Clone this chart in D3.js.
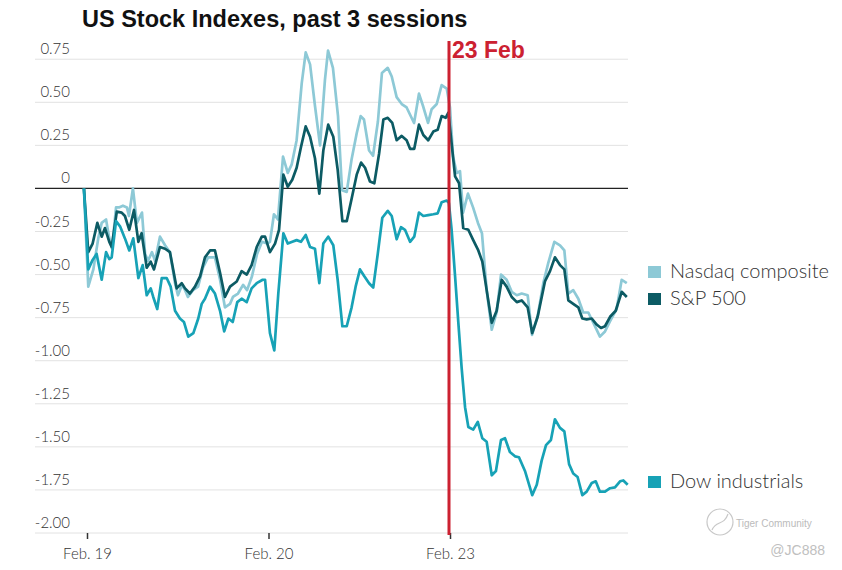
<!DOCTYPE html>
<html>
<head>
<meta charset="utf-8">
<script src="https://cdn.jsdelivr.net/npm/d3@7/dist/d3.min.js"></script>
<style>
  body { margin: 0; background: #fff; }
  text { font-family: Lato, "Liberation Sans", sans-serif; }
</style>
</head>
<body>
<script>
// sessions on the x axis, time measured in sessions from Feb. 19 open
const sessions = ["Feb. 19", "Feb. 20", "Feb. 23"];
const yTicks = [0.75, 0.5, 0.25, 0, -0.25, -0.5, -0.75, -1, -1.25, -1.5, -1.75, -2];
const markerTime = 2;          // 23 Feb open
const markerLabel = "23 Feb";

// [session time, % change]
const nasdaq = [
  [-0.017, 0], [0.007, -0.57], [0.035, -0.47], [0.062, -0.29], [0.081, -0.20], [0.105, -0.18],
  [0.121, -0.28], [0.138, -0.35], [0.160, -0.11], [0.176, -0.11], [0.198, -0.10], [0.220, -0.11],
  [0.231, -0.16], [0.253, 0.0], [0.275, -0.20], [0.303, -0.14], [0.320, -0.38], [0.336, -0.42],
  [0.358, -0.37], [0.375, -0.42], [0.402, -0.28], [0.430, -0.33], [0.457, -0.37], [0.485, -0.55],
  [0.501, -0.62], [0.523, -0.56], [0.540, -0.59], [0.556, -0.63], [0.584, -0.59], [0.612, -0.57],
  [0.639, -0.46], [0.667, -0.40], [0.705, -0.40], [0.733, -0.53], [0.760, -0.69], [0.788, -0.67],
  [0.804, -0.63], [0.832, -0.61], [0.860, -0.56], [0.882, -0.59], [0.909, -0.51], [0.937, -0.38],
  [0.964, -0.31], [0.992, -0.32], [1.008, -0.31], [1.030, -0.15], [1.052, -0.18], [1.080, 0.185],
  [1.106, 0.09], [1.128, 0.14], [1.155, 0.28], [1.183, 0.61], [1.205, 0.79], [1.229, 0.72],
  [1.256, 0.48], [1.284, 0.25], [1.311, 0.63], [1.328, 0.80], [1.355, 0.70], [1.383, 0.42],
  [1.405, -0.01], [1.431, -0.02], [1.458, 0.17], [1.486, 0.32], [1.508, 0.42], [1.526, 0.40],
  [1.554, 0.22], [1.576, 0.19], [1.603, 0.39], [1.625, 0.67], [1.657, 0.70], [1.679, 0.65],
  [1.706, 0.53], [1.734, 0.49], [1.761, 0.47], [1.802, 0.38], [1.829, 0.55], [1.851, 0.48],
  [1.879, 0.38], [1.899, 0.46], [1.927, 0.49], [1.954, 0.60], [1.982, 0.58], [2.000, 0.47],
  [2.017, 0.185], [2.037, 0.09], [2.055, 0.10], [2.072, -0.14], [2.099, -0.03], [2.127, -0.11],
  [2.154, -0.20], [2.176, -0.26], [2.202, -0.59], [2.230, -0.82], [2.257, -0.72], [2.281, -0.50],
  [2.312, -0.53], [2.340, -0.60], [2.368, -0.62], [2.395, -0.61], [2.428, -0.62], [2.452, -0.85],
  [2.483, -0.74], [2.514, -0.55], [2.542, -0.43], [2.575, -0.31], [2.606, -0.33], [2.630, -0.36],
  [2.652, -0.61], [2.679, -0.59], [2.707, -0.64], [2.734, -0.72], [2.762, -0.72], [2.790, -0.78],
  [2.826, -0.86], [2.854, -0.83], [2.882, -0.77], [2.918, -0.70], [2.946, -0.53], [2.974, -0.55]
];

const sp500 = [
  [-0.017, 0], [0.007, -0.37], [0.031, -0.32], [0.057, -0.20], [0.081, -0.28], [0.099, -0.23],
  [0.123, -0.31], [0.136, -0.34], [0.164, -0.135], [0.191, -0.14], [0.209, -0.16], [0.233, -0.24],
  [0.259, -0.125], [0.283, -0.31], [0.301, -0.26], [0.329, -0.46], [0.351, -0.425], [0.369, -0.47],
  [0.402, -0.34], [0.430, -0.35], [0.457, -0.37], [0.494, -0.58], [0.522, -0.55], [0.540, -0.58],
  [0.567, -0.61], [0.595, -0.57], [0.623, -0.51], [0.650, -0.40], [0.678, -0.36], [0.705, -0.36],
  [0.733, -0.49], [0.760, -0.63], [0.788, -0.57], [0.825, -0.54], [0.852, -0.48], [0.880, -0.50],
  [0.907, -0.445], [0.935, -0.34], [0.963, -0.28], [0.981, -0.28], [1.008, -0.37], [1.036, -0.32],
  [1.058, -0.24], [1.082, 0.08], [1.106, 0.01], [1.131, 0.05], [1.155, 0.12], [1.179, 0.24],
  [1.205, 0.36], [1.229, 0.30], [1.256, 0.175], [1.280, -0.03], [1.302, 0.22], [1.329, 0.37],
  [1.357, 0.30], [1.381, 0.11], [1.407, -0.19], [1.431, -0.19], [1.458, -0.06], [1.486, 0.08],
  [1.510, 0.15], [1.532, 0.12], [1.559, 0.04], [1.583, 0.03], [1.609, 0.20], [1.633, 0.40],
  [1.657, 0.41], [1.682, 0.38], [1.706, 0.28], [1.734, 0.305], [1.761, 0.28], [1.780, 0.23],
  [1.803, 0.23], [1.829, 0.37], [1.853, 0.31], [1.880, 0.28], [1.908, 0.33], [1.932, 0.34],
  [1.954, 0.42], [1.976, 0.41], [1.991, 0.44], [2.028, 0.07], [2.050, 0.03], [2.073, -0.23],
  [2.101, -0.24], [2.128, -0.30], [2.156, -0.36], [2.178, -0.425], [2.202, -0.59], [2.230, -0.78],
  [2.257, -0.71], [2.285, -0.53], [2.312, -0.57], [2.340, -0.63], [2.368, -0.66], [2.395, -0.65],
  [2.428, -0.69], [2.453, -0.84], [2.483, -0.745], [2.523, -0.54], [2.551, -0.48], [2.578, -0.40],
  [2.606, -0.445], [2.630, -0.47], [2.652, -0.65], [2.679, -0.67], [2.707, -0.69], [2.729, -0.755],
  [2.753, -0.76], [2.781, -0.755], [2.808, -0.79], [2.832, -0.81], [2.854, -0.80], [2.882, -0.745],
  [2.913, -0.71], [2.946, -0.60], [2.974, -0.63]
];

const dow = [
  [-0.017, 0], [0.007, -0.47], [0.031, -0.415], [0.053, -0.38], [0.081, -0.53], [0.105, -0.37],
  [0.123, -0.41], [0.136, -0.40], [0.160, -0.19], [0.182, -0.22], [0.209, -0.29], [0.233, -0.36],
  [0.255, -0.29], [0.283, -0.52], [0.307, -0.445], [0.329, -0.62], [0.351, -0.58], [0.365, -0.63],
  [0.387, -0.70], [0.412, -0.52], [0.439, -0.52], [0.461, -0.57], [0.485, -0.71], [0.512, -0.755],
  [0.534, -0.775], [0.558, -0.86], [0.586, -0.84], [0.613, -0.755], [0.632, -0.67], [0.650, -0.64],
  [0.678, -0.57], [0.705, -0.61], [0.733, -0.71], [0.756, -0.83], [0.779, -0.755], [0.803, -0.775],
  [0.828, -0.66], [0.852, -0.64], [0.880, -0.66], [0.907, -0.58], [0.935, -0.55], [0.968, -0.53],
  [0.981, -0.53], [1.008, -0.84], [1.032, -0.94], [1.054, -0.61], [1.082, -0.26], [1.106, -0.32],
  [1.131, -0.31], [1.155, -0.30], [1.179, -0.31], [1.205, -0.27], [1.229, -0.34], [1.256, -0.35],
  [1.280, -0.55], [1.302, -0.32], [1.329, -0.28], [1.357, -0.33], [1.381, -0.53], [1.407, -0.80],
  [1.431, -0.80], [1.458, -0.69], [1.480, -0.57], [1.504, -0.47], [1.528, -0.51], [1.554, -0.55],
  [1.577, -0.575], [1.602, -0.38], [1.627, -0.17], [1.657, -0.13], [1.679, -0.16], [1.706, -0.295],
  [1.730, -0.225], [1.752, -0.24], [1.780, -0.31], [1.803, -0.28], [1.829, -0.14], [1.853, -0.16],
  [1.880, -0.155], [1.908, -0.15], [1.932, -0.145], [1.954, -0.08], [1.982, -0.07], [1.994, -0.085],
  [2.009, -0.24], [2.028, -0.51], [2.046, -0.78], [2.064, -1.04], [2.083, -1.27], [2.101, -1.385],
  [2.128, -1.40], [2.153, -1.355], [2.178, -1.45], [2.202, -1.47], [2.230, -1.665], [2.253, -1.64],
  [2.281, -1.46], [2.303, -1.45], [2.330, -1.53], [2.358, -1.555], [2.380, -1.56], [2.413, -1.64],
  [2.453, -1.78], [2.478, -1.72], [2.505, -1.58], [2.529, -1.49], [2.556, -1.46], [2.578, -1.34],
  [2.606, -1.39], [2.630, -1.41], [2.656, -1.60], [2.679, -1.655], [2.703, -1.675], [2.729, -1.78],
  [2.753, -1.76], [2.781, -1.71], [2.803, -1.70], [2.826, -1.76], [2.854, -1.76], [2.882, -1.74],
  [2.909, -1.735], [2.937, -1.70], [2.955, -1.695], [2.979, -1.72]
];

const seriesNames = ["Nasdaq composite", "S&P 500", "Dow industrials"];
const seriesColors = ["#8dc9d6", "#0c5b64", "#17a2b6"];
const seriesData = [nasdaq, sp500, dow];

const width = 842, height = 570;
const svg = d3.select("body").append("svg").attr("width", width).attr("height", height);

const x = d3.scaleLinear().domain([0, 3]).range([87, 631.5]);
const y = d3.scaleLinear().domain([-2, 0.85]).range([533, 42]);
const gridLeft = 35, gridRight = 628;

// title
svg.append("text").attr("x", 82).attr("y", 27)
  .style("font-family", "'Liberation Sans', Arial, sans-serif")
  .style("font-weight", "bold").style("font-size", "23.5px").attr("fill", "#111")
  .text("US Stock Indexes, past 3 sessions");

// grid + y labels
const grid = svg.append("g");
grid.selectAll("line").data(yTicks).enter().append("line")
  .attr("x1", gridLeft).attr("x2", gridRight)
  .attr("y1", d => y(d)).attr("y2", d => y(d))
  .attr("stroke", d => d === 0 ? "#222" : "#e2e2e2")
  .attr("stroke-width", d => d === 0 ? 1.2 : 1);
grid.selectAll("text").data(yTicks).enter().append("text")
  .attr("x", 70).attr("y", d => y(d) - 5)
  .attr("text-anchor", "end").attr("fill", "#333")
  .style("font-size", "15px").style("font-weight", 300)
  .text(d => d === 0 ? "0" : d.toFixed(2));

// x axis ticks
const xAxis = svg.append("g").attr("transform", `translate(0,${y(-2)})`)
  .call(d3.axisBottom(x).tickValues([0, 1, 2]).tickSize(6).tickFormat(i => sessions[i]));
xAxis.select(".domain").remove();
xAxis.selectAll(".tick line").attr("stroke", "#333").attr("stroke-width", 1.5);
xAxis.selectAll(".tick text").attr("fill", "#333").attr("dy", "1.15em")
  .style("font-size", "15px").style("font-weight", 300).style("font-family", "Lato, sans-serif");

// lines
const line = d3.line().x(d => x(d[0])).y(d => y(d[1]));
svg.append("g").selectAll("path").data(seriesData).enter().append("path")
  .attr("d", line).attr("fill", "none")
  .attr("stroke", (d, i) => seriesColors[i]).attr("stroke-width", 2.7)
  .attr("stroke-linejoin", "round");

// 23 Feb marker
svg.append("line").attr("x1", x(markerTime) - 1).attr("x2", x(markerTime) - 1)
  .attr("y1", 41).attr("y2", 535).attr("stroke", "#cc2131").attr("stroke-width", 3);
svg.append("text").attr("x", x(markerTime) + 2).attr("y", 58)
  .style("font-family", "'Liberation Sans', Arial, sans-serif")
  .style("font-weight", "bold").style("font-size", "23px").attr("fill", "#cc2131")
  .text(markerLabel);

// legend
const legendY = [271, 298, 481];
const legend = svg.append("g").selectAll("g").data(seriesNames).enter().append("g")
  .attr("transform", (d, i) => `translate(648,${legendY[i]})`);
legend.append("rect").attr("x", 0).attr("y", -5).attr("width", 13).attr("height", 12)
  .attr("fill", (d, i) => seriesColors[i]);
legend.append("text").attr("x", 22).attr("y", 6.5)
  .style("font-size", "20px").style("font-weight", 300).attr("fill", "#333")
  .text(d => d);

// watermark
const wm = svg.append("g").attr("fill", "none").attr("stroke", "#c8c8c8");
wm.append("circle").attr("cx", 720).attr("cy", 522).attr("r", 13).attr("stroke-width", 1.2);
wm.append("path").attr("d", "M712,530 C716,520 724,526 728,514").attr("stroke-width", 1.2);
svg.append("text").attr("x", 736).attr("y", 527).attr("fill", "#bbb")
  .style("font-family", "'Liberation Sans', Arial, sans-serif").style("font-size", "10px")
  .text("Tiger Community");
svg.append("text").attr("x", 825).attr("y", 555).attr("text-anchor", "end").attr("fill", "#c0c0c0")
  .style("font-family", "'Liberation Sans', Arial, sans-serif").style("font-size", "14px")
  .text("@JC888");
</script>
</body>
</html>
